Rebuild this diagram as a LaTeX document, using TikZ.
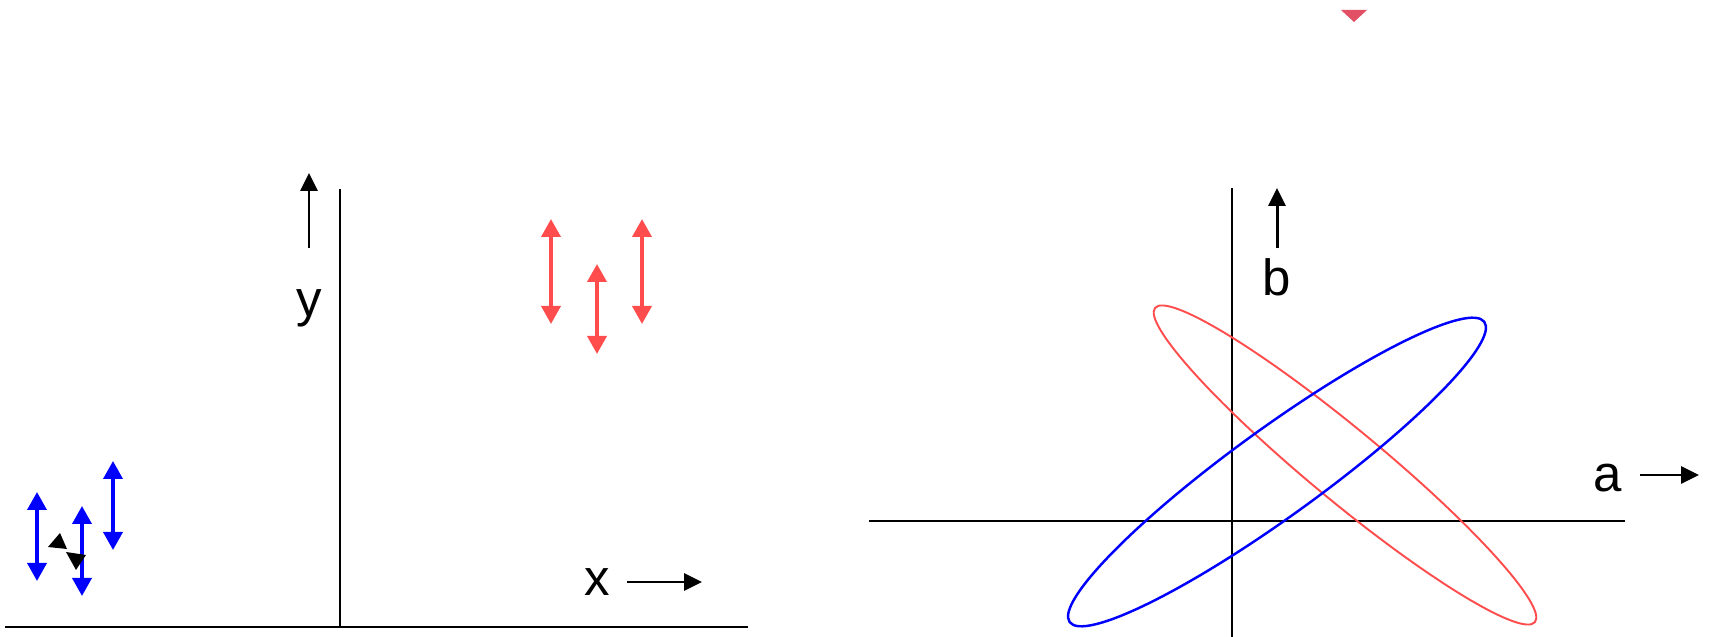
\documentclass[tikz,border=0pt]{standalone}
\usepackage{fontspec}
\setmainfont{Liberation Sans}
\usepackage{xcolor}
\usepackage{tikz}
\usetikzlibrary{arrows.meta,positioning,calc}
\definecolor{clrR}{RGB}{255,77,77}
\definecolor{clrB}{RGB}{0,0,255}
\definecolor{clrT}{RGB}{225,80,100}
\tikzset{
  axisline/.style={line width=0.6pt,color=black},
  arrow/.style={-{Triangle[length=1.8mm,width=1.7mm]},line width=0.85pt,color=black},
  swing/.style={{Triangle[length=1.8mm,width=1.9mm]}-{Triangle[length=1.8mm,width=1.9mm]},line width=1.05pt},
  swingB/.style={swing,color=clrB},
  swingR/.style={swing,color=clrR},
  axlabel/.style={font=\fontsize{14.5}{17}\selectfont,inner sep=0pt}
}
\begin{document}
\begin{tikzpicture}[x=0.1mm,y=0.1mm]
  \useasboundingbox (0,0) rectangle (1709,637);
  % left panel
  \draw[axisline] (5,10) -- (748,10);
  \draw[axisline] (340,448) -- (340,10);
  \node[axlabel] (ylab) at (309,329) {y};
  \draw[arrow] (309,389) -- (309,464);
  \node[axlabel] (xlab) at (597,55) {x};
  \draw[arrow] (627,55) -- (702,55);
  \draw[swingB] (37,145) -- (37,56);
  \draw[swingB] (82,131) -- (82,41);
  \draw[swingB] (113,176) -- (113,87);
  \fill (60,104) -- (48,90) -- (67,88) -- cycle;
  \fill (66,85) -- (86,82) -- (76,67) -- cycle;
  \draw[swingR] (551,418) -- (551,313);
  \draw[swingR] (597,373) -- (597,283);
  \draw[swingR] (642,418) -- (642,313);
  % right panel
  \fill[clrT] (1341,627) -- (1367,627) -- (1354,615) -- cycle;
  \draw[axisline] (1232,449) -- (1232,0);
  \draw[axisline] (869,116) -- (1625,116);
  \node[axlabel] (blab) at (1277,360) {b};
  \draw[arrow] (1277,389) -- (1277,449);
  \node[axlabel] (alab) at (1608,159) {a};
  \draw[arrow] (1640,162) -- (1699,162);
  \draw[clrR,line width=0.55pt,rotate around={-39.6:(1345,172)}]
    (1345,172) ellipse [x radius=24.65mm,y radius=3.6mm];
  \draw[clrB,line width=0.7pt,rotate around={35.9:(1277,165)}]
    (1277,165) ellipse [x radius=25.6mm,y radius=4.4mm];
\end{tikzpicture}
\end{document}
